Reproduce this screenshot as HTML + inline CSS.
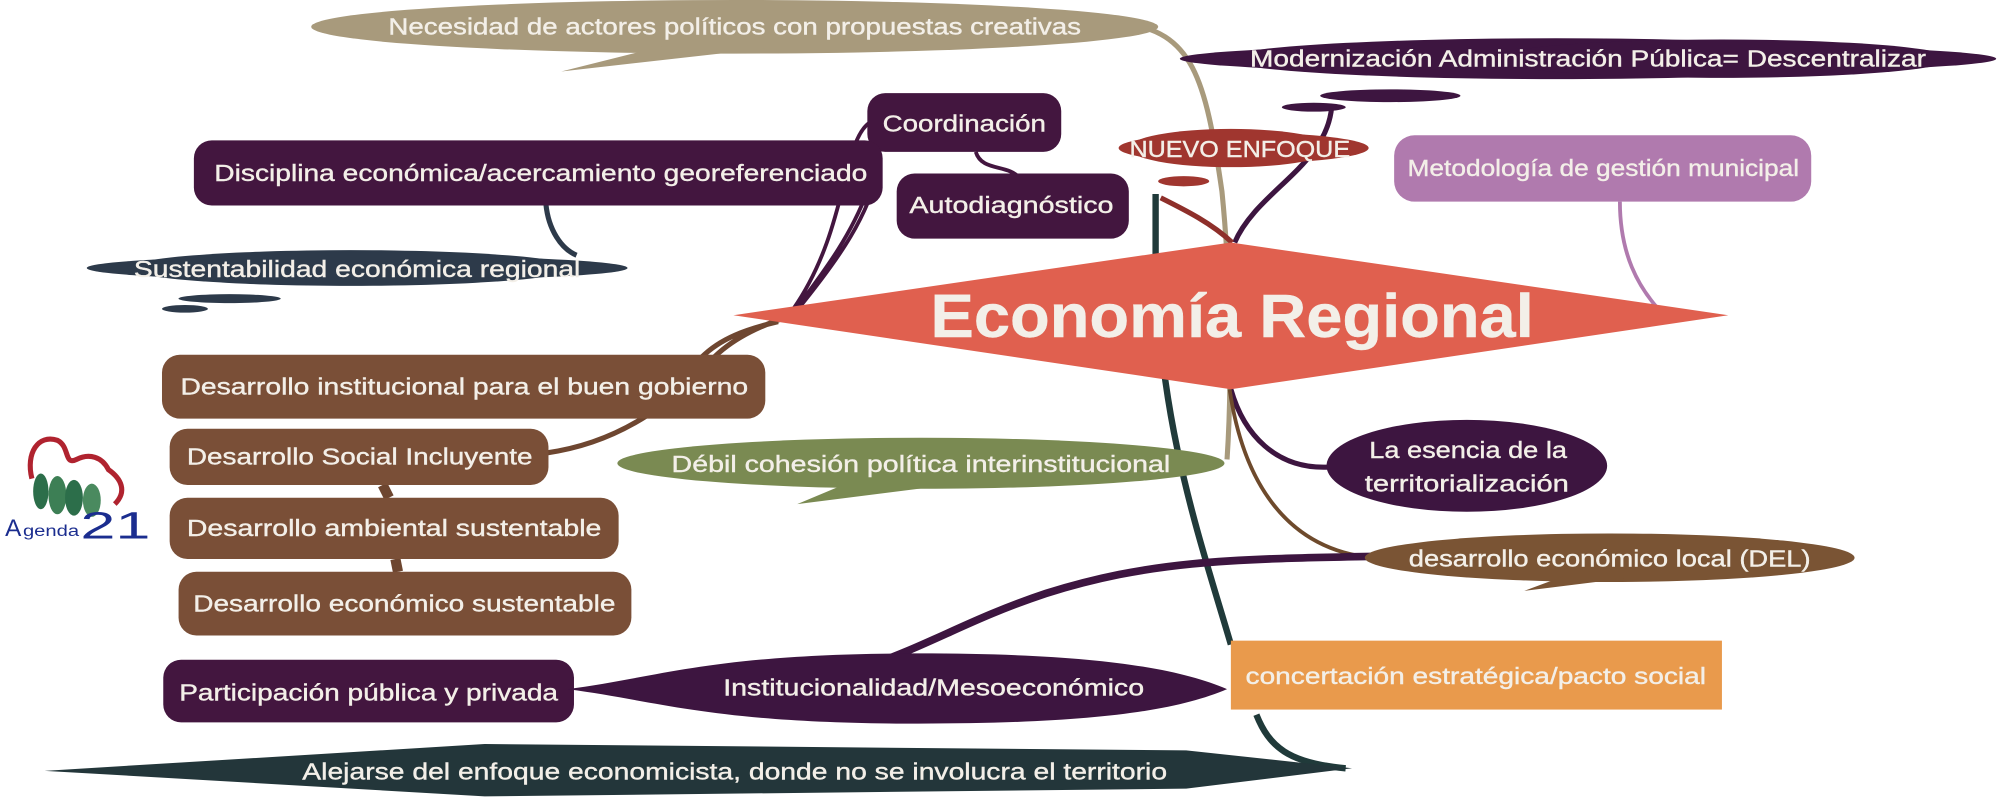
<!DOCTYPE html>
<html><head><meta charset="utf-8"><style>
html,body{margin:0;padding:0;background:#fff;}
svg{display:block;}
text{font-family:"Liberation Sans",sans-serif;fill:#f3efe8;font-size:18px;stroke:#f3efe8;stroke-width:0.3px;}
</style></head><body>
<svg width="2000" height="804" viewBox="0 0 1568 630" preserveAspectRatio="none" xmlns="http://www.w3.org/2000/svg">
<g fill="none">
<path d="M880,18 C935,25 945,60 958,150 C965,220 966,300 962,360" stroke="#a89a7c" stroke-width="4"/>
<path d="M1044,84 C1040,130 985,150 968,190" stroke="#3d1540" stroke-width="4"/>
<path d="M906,152 L906,200 C908,330 940,420 965,505 M985,560 C995,585 1010,598 1055,602" stroke="#203a3a" stroke-width="5"/>
<path d="M910,155 C930,165 950,175 966,190" stroke="#8e2f2a" stroke-width="4"/>
<path d="M682,96 C660,110 665,180 622,242 M690,130 C680,170 660,200 625,243 M680,150 C665,190 640,220 622,245 M765,119 C770,135 790,128 800,140" stroke="#43163f" stroke-width="3"/>
<path d="M428,160 C430,180 440,195 452,200" stroke="#2d3a4a" stroke-width="4"/>
<path d="M1270,158 C1270,200 1285,225 1300,242" stroke="#b07aae" stroke-width="3"/>
<path d="M428,355 C500,345 540,300 555,285 C570,268 590,258 612,250 M550,280 C565,265 585,258 610,252" stroke="#6e4630" stroke-width="4"/>
<path d="M300,380 L305,390 M310,438 L312,448" stroke="#6e4630" stroke-width="8"/>
<path d="M965,305 C975,340 1000,368 1042,366" stroke="#3d1540" stroke-width="4"/>
<path d="M964,305 C975,380 1010,430 1075,437" stroke="#6e4a2c" stroke-width="3"/>
<path d="M1075,436 C960,438 900,440 820,465 C760,485 730,505 680,522" stroke="#3d1540" stroke-width="6"/>
</g>
<g>
<ellipse cx="576" cy="21" rx="332" ry="21" fill="#a89a7c"/>
<path d="M520,36 L440,56 L600,38 Z" fill="#a89a7c"/>
<text x="576" y="27" text-anchor="middle" textLength="543" lengthAdjust="spacingAndGlyphs">Necesidad de actores políticos con propuestas creativas</text>
</g>
<g fill="#3d1540">
<ellipse cx="1245" cy="46" rx="320" ry="12"/>
<ellipse cx="1220" cy="46" rx="260" ry="16"/>
<ellipse cx="1350" cy="46" rx="180" ry="15"/>
<ellipse cx="1090" cy="75" rx="55" ry="5"/>
<ellipse cx="1030" cy="84" rx="25" ry="3.5"/>
<text x="1245" y="52" text-anchor="middle" textLength="530" lengthAdjust="spacingAndGlyphs">Modernización Administración Pública= Descentralizar</text>
</g>
<g>
<rect x="680" y="73" width="152" height="46" rx="14" fill="#43163f"/>
<text x="756" y="103" text-anchor="middle" textLength="128" lengthAdjust="spacingAndGlyphs">Coordinación</text>
</g>
<g>
<rect x="703" y="136" width="182" height="51" rx="14" fill="#43163f"/>
<text x="793" y="167" text-anchor="middle" textLength="160" lengthAdjust="spacingAndGlyphs">Autodiagnóstico</text>
</g>
<g>
<rect x="152" y="110" width="540" height="51" rx="14" fill="#43163f"/>
<text x="424" y="142" text-anchor="middle" textLength="512" lengthAdjust="spacingAndGlyphs">Disciplina económica/acercamiento georeferenciado</text>
</g>
<g fill="#a0362f">
<ellipse cx="975" cy="116" rx="98" ry="12"/>
<ellipse cx="965" cy="116" rx="80" ry="15"/>
<ellipse cx="928" cy="142" rx="20" ry="4"/>
<text x="972" y="123" text-anchor="middle" textLength="173" lengthAdjust="spacingAndGlyphs">NUEVO ENFOQUE</text>
</g>
<g>
<rect x="1093" y="106" width="327" height="52" rx="16" fill="#b07aae"/>
<text x="1257" y="138" text-anchor="middle" textLength="307" lengthAdjust="spacingAndGlyphs">Metodología de gestión municipal</text>
</g>
<g fill="#2d3a4a">
<ellipse cx="280" cy="210" rx="212" ry="10"/>
<ellipse cx="275" cy="210" rx="175" ry="14"/>
<ellipse cx="180" cy="234" rx="40" ry="3.5"/>
<ellipse cx="145" cy="242" rx="18" ry="3"/>
<text x="280" y="217" text-anchor="middle" textLength="350" lengthAdjust="spacingAndGlyphs">Sustentabilidad económica regional</text>
</g>
<g>
<polygon points="575,247 965,190 1355,247 965,305" fill="#e0604f"/>
<text x="966" y="264" text-anchor="middle" font-weight="bold" style="font-size:48px" textLength="473" lengthAdjust="spacingAndGlyphs">Economía Regional</text>
</g>
<g>
<rect x="127" y="278" width="473" height="50" rx="14" fill="#7a4f37"/>
<text x="364" y="309" text-anchor="middle" textLength="445" lengthAdjust="spacingAndGlyphs">Desarrollo institucional para el buen gobierno</text>
</g>
<g>
<rect x="133" y="336" width="297" height="44" rx="14" fill="#7a4f37"/>
<text x="282" y="364" text-anchor="middle" textLength="271" lengthAdjust="spacingAndGlyphs">Desarrollo Social Incluyente</text>
</g>
<g>
<rect x="133" y="390" width="352" height="48" rx="14" fill="#7a4f37"/>
<text x="309" y="420" text-anchor="middle" textLength="325" lengthAdjust="spacingAndGlyphs">Desarrollo ambiental sustentable</text>
</g>
<g>
<rect x="140" y="448" width="355" height="50" rx="14" fill="#7a4f37"/>
<text x="317" y="479" text-anchor="middle" textLength="331" lengthAdjust="spacingAndGlyphs">Desarrollo económico sustentable</text>
</g>
<g>
<path d="M25,375 C20,355 30,340 45,345 C55,350 50,365 60,360 C70,355 80,358 85,368 C95,375 100,385 90,395" fill="none" stroke="#b0232f" stroke-width="4"/>
<ellipse cx="32" cy="385" rx="6" ry="14" fill="#2c6e4a"/>
<ellipse cx="45" cy="388" rx="7" ry="15" fill="#3d7f55"/>
<ellipse cx="58" cy="390" rx="7" ry="14" fill="#2c6e4a"/>
<ellipse cx="72" cy="392" rx="7" ry="13" fill="#4a8a5f"/>
<text x="4" y="420" style="fill:#1b2d8f;stroke:none;font-size:19px">A</text>
<text x="18" y="420" style="fill:#1b2d8f;stroke:none;font-size:12px" textLength="44" lengthAdjust="spacingAndGlyphs">genda</text>
<text x="63" y="422" style="fill:#1b2d8f;stroke:none;font-size:30px" textLength="55" lengthAdjust="spacingAndGlyphs">21</text>
</g>
<g>
<ellipse cx="722" cy="363" rx="238" ry="20" fill="#7a8a52"/>
<path d="M680,372 L625,395 L760,378 Z" fill="#7a8a52"/>
<text x="722" y="370" text-anchor="middle" textLength="391" lengthAdjust="spacingAndGlyphs">Débil cohesión política interinstitucional</text>
</g>
<g>
<ellipse cx="1150" cy="365" rx="110" ry="36" fill="#3d1540"/>
<text x="1151" y="359" text-anchor="middle" textLength="155" lengthAdjust="spacingAndGlyphs">La esencia de la</text>
<text x="1150" y="385" text-anchor="middle" textLength="160" lengthAdjust="spacingAndGlyphs">territorialización</text>
</g>
<g>
<ellipse cx="1262" cy="437" rx="192" ry="19" fill="#7a5434"/>
<path d="M1230,450 L1195,463 L1300,450 Z" fill="#7a5434"/>
<text x="1262" y="444" text-anchor="middle" textLength="315" lengthAdjust="spacingAndGlyphs">desarrollo económico local (DEL)</text>
</g>
<g>
<rect x="128" y="517" width="322" height="49" rx="14" fill="#43163f"/>
<text x="289" y="549" text-anchor="middle" textLength="297" lengthAdjust="spacingAndGlyphs">Participación pública y privada</text>
</g>
<g>
<path d="M445,540 C520,530 560,512 720,512 C850,512 920,522 962,540 C920,558 850,567 720,567 C560,567 520,550 445,540 Z" fill="#3d1540"/>
<text x="732" y="545" text-anchor="middle" textLength="330" lengthAdjust="spacingAndGlyphs">Institucionalidad/Mesoeconómico</text>
</g>
<g>
<rect x="965" y="502" width="385" height="54" fill="#e99a4c"/>
<text x="1157" y="536" text-anchor="middle" textLength="361" lengthAdjust="spacingAndGlyphs">concertación estratégica/pacto social</text>
</g>
<g>
<polygon points="35,604 380,583 930,588 1060,602 930,618 380,624" fill="#23363a"/>
<text x="576" y="611" text-anchor="middle" textLength="678" lengthAdjust="spacingAndGlyphs">Alejarse del enfoque economicista, donde no se involucra el territorio</text>
</g>
</svg>
</body></html>
